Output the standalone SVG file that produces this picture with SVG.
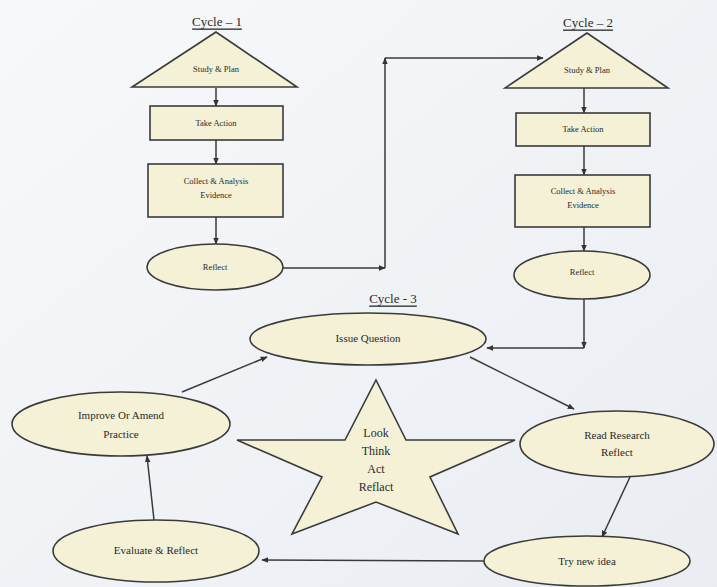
<svg xmlns="http://www.w3.org/2000/svg" width="717" height="587" viewBox="0 0 717 587">
<defs>
<marker id="ah" viewBox="0 0 10 10" refX="9" refY="5" markerWidth="7" markerHeight="7" orient="auto" markerUnits="userSpaceOnUse">
<path d="M0,1 L10,5 L0,9 z" fill="#333"/>
</marker>
<linearGradient id="bg" x1="0" y1="0" x2="1" y2="1">
<stop offset="0" stop-color="#f7f8fa"/>
<stop offset="1" stop-color="#e9edf2"/>
</linearGradient>
</defs>
<style>
.shape{fill:#f4f1d6;stroke:#3a3a3a;stroke-width:1.6}
.con{fill:none;stroke:#3a3a3a;stroke-width:1.5;marker-end:url(#ah)}
text{font-family:"Liberation Serif","Times New Roman",serif;fill:#2a2a2a;text-anchor:middle;dominant-baseline:central}
.s{font-size:8.5px}
.m{font-size:11px}
.st{font-size:12px}
.t{font-size:13px;text-decoration:underline}
</style>
<rect width="717" height="587" fill="url(#bg)"/>

<text class="t" x="217" y="21">Cycle – 1</text>
<text class="t" x="588" y="22">Cycle – 2</text>
<text class="t" x="393" y="298">Cycle - 3</text>

<g id="connectors">
<path class="con" d="M216,88 L216,106"/>
<path class="con" d="M216,140 L216,164"/>
<path class="con" d="M216,217 L216,244"/>
<path class="con" d="M283,268 L385,268"/>
<path class="con" d="M385,268 L385,58"/>
<path class="con" d="M385,58 L543,58"/>
<path class="con" d="M584,88 L584,113"/>
<path class="con" d="M584,146 L584,175"/>
<path class="con" d="M584,227 L584,251"/>
<path class="con" d="M584,299 L584,348"/>
<path class="con" d="M584,348 L487,348"/>
<path class="con" d="M470,357 L574,409"/>
<path class="con" d="M630,477 L602,537"/>
<path class="con" d="M484,561 L262,560"/>
<path class="con" d="M154,520 L147,456"/>
<path class="con" d="M182,392 L267,357"/>
</g>

<g id="c1-study">
<polygon class="shape" points="216,32 132,87 297,87"/>
<text class="s" x="216" y="69">Study &amp; Plan</text>
</g>
<g id="c1-take">
<rect class="shape" x="150" y="106" width="133" height="34"/>
<text class="s" x="216" y="123">Take Action</text>
</g>
<g id="c1-collect">
<rect class="shape" x="148" y="164" width="135" height="53"/>
<text class="s" x="216" y="181">Collect &amp; Analysis</text>
<text class="s" x="216" y="195">Evidence</text>
</g>
<g id="c1-reflect">
<ellipse class="shape" cx="215" cy="267" rx="68" ry="23"/>
<text class="s" x="215" y="267">Reflect</text>
</g>

<g id="c2-study">
<polygon class="shape" points="587,33 505,88 668,88"/>
<text class="s" x="587" y="70">Study &amp; Plan</text>
</g>
<g id="c2-take">
<rect class="shape" x="516" y="113" width="134" height="33"/>
<text class="s" x="583" y="129">Take Action</text>
</g>
<g id="c2-collect">
<rect class="shape" x="515" y="175" width="135" height="52"/>
<text class="s" x="583" y="191">Collect &amp; Analysis</text>
<text class="s" x="583" y="205">Evidence</text>
</g>
<g id="c2-reflect">
<ellipse class="shape" cx="582" cy="275" rx="68" ry="24"/>
<text class="s" x="582" y="272">Reflect</text>
</g>

<g id="issue">
<ellipse class="shape" cx="368" cy="339" rx="118" ry="26"/>
<text class="m" x="368" y="338">Issue Question</text>
</g>
<g id="read">
<ellipse class="shape" cx="617" cy="444" rx="97" ry="33"/>
<text class="m" x="617" y="435">Read Research</text>
<text class="m" x="617" y="452">Reflect</text>
</g>
<g id="try">
<ellipse class="shape" cx="587" cy="561" rx="103" ry="25"/>
<text class="m" x="587" y="561">Try new idea</text>
</g>
<g id="evaluate">
<ellipse class="shape" cx="156" cy="551" rx="103" ry="31"/>
<text class="m" x="156" y="550">Evaluate &amp; Reflect</text>
</g>
<g id="improve">
<ellipse class="shape" cx="121" cy="424" rx="109" ry="32"/>
<text class="m" x="121" y="415">Improve Or Amend</text>
<text class="m" x="121" y="434">Practice</text>
</g>
<g id="star">
<polygon class="shape" points="376,380 406,440 515,440 430,477 458,534 376,502 292,534 322,477 237,440 345,440"/>
<text class="st" x="376" y="433">Look</text>
<text class="st" x="376" y="451">Think</text>
<text class="st" x="376" y="469">Act</text>
<text class="st" x="376" y="487">Reflact</text>
</g>
</svg>
